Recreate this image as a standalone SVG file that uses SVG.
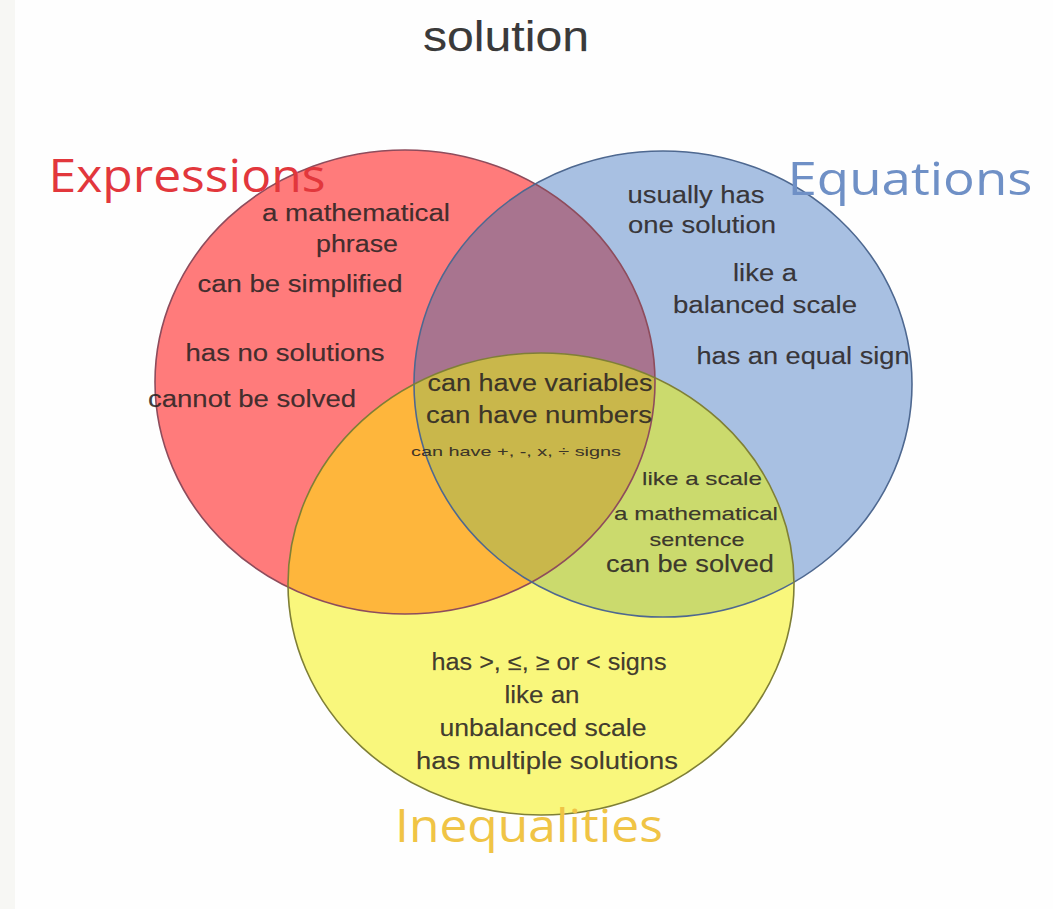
<svg xmlns="http://www.w3.org/2000/svg" width="1053" height="909" viewBox="0 0 1053 909">
  <style>
    .t { font-family: "Liberation Sans", Arial, sans-serif; font-size: 23px; fill: #2a2424; fill-opacity: 0.9; stroke: #2a2424; stroke-width: 0.25; stroke-opacity: 0.6; text-anchor: middle; }
    .s { font-size: 19px; }
    .xs { font-size: 13px; stroke-width: 0.1; }
    .lbl { font-family: "Open Sans", "Liberation Sans", sans-serif; font-size: 46px; text-anchor: middle; }
    .edge { fill: none; stroke-width: 1.6; }
  </style>
  <defs>
    <clipPath id="cR"><ellipse cx="405" cy="382" rx="250" ry="232"/></clipPath>
    <clipPath id="cB"><ellipse cx="663" cy="384" rx="249" ry="233"/></clipPath>
    <clipPath id="cY"><ellipse cx="541" cy="584" rx="253" ry="231"/></clipPath>
  </defs>

  <rect x="0" y="0" width="1053" height="909" fill="#fefefe"/>
  <rect x="0" y="0" width="15" height="909" fill="#f7f7f4"/>

  <text class="t" x="506" y="51" style="font-size:43px;fill:#1e1e1e" textLength="166" lengthAdjust="spacingAndGlyphs">solution</text>

  <g id="regions">
    <ellipse cx="405" cy="382" rx="250" ry="232" fill="#ff7b7b"/>
    <ellipse cx="663" cy="384" rx="249" ry="233" fill="#a8c0e2"/>
    <ellipse cx="541" cy="584" rx="253" ry="231" fill="#f9f77c"/>
    <ellipse cx="405" cy="382" rx="250" ry="232" fill="#a8748f" clip-path="url(#cB)"/>
    <ellipse cx="541" cy="584" rx="253" ry="231" fill="#feb63c" clip-path="url(#cR)"/>
    <ellipse cx="541" cy="584" rx="253" ry="231" fill="#cbda6d" clip-path="url(#cB)"/>
    <g clip-path="url(#cB)">
      <ellipse cx="541" cy="584" rx="253" ry="231" fill="#c9b74b" clip-path="url(#cR)"/>
    </g>
  </g>

  <g id="expressions">
    <ellipse class="edge" cx="405" cy="382" rx="250" ry="232" stroke="#8e4c5c"/>
    <text class="lbl" x="187" y="192" fill="#e2373c" textLength="277" lengthAdjust="spacingAndGlyphs">Expressions</text>
    <text class="t" x="356" y="221" textLength="188" lengthAdjust="spacingAndGlyphs">a mathematical</text>
    <text class="t" x="357" y="252" textLength="82" lengthAdjust="spacingAndGlyphs">phrase</text>
    <text class="t" x="300" y="292" textLength="205" lengthAdjust="spacingAndGlyphs">can be simplified</text>
    <text class="t" x="285" y="361" textLength="199" lengthAdjust="spacingAndGlyphs">has no solutions</text>
    <text class="t" x="252" y="407" textLength="208" lengthAdjust="spacingAndGlyphs">cannot be solved</text>
  </g>

  <g id="equations">
    <ellipse class="edge" cx="663" cy="384" rx="249" ry="233" stroke="#4e6890"/>
    <text class="lbl" x="910" y="195" fill="#6f90c6" textLength="245" lengthAdjust="spacingAndGlyphs">Equations</text>
    <text class="t" x="696" y="203" textLength="137" lengthAdjust="spacingAndGlyphs">usually has</text>
    <text class="t" x="702" y="233" textLength="148" lengthAdjust="spacingAndGlyphs">one solution</text>
    <text class="t" x="765" y="281" textLength="64" lengthAdjust="spacingAndGlyphs">like a</text>
    <text class="t" x="765" y="313" textLength="184" lengthAdjust="spacingAndGlyphs">balanced scale</text>
    <text class="t" x="803" y="364" textLength="213" lengthAdjust="spacingAndGlyphs">has an equal sign</text>
  </g>

  <g id="inequalities">
    <ellipse class="edge" cx="541" cy="584" rx="253" ry="231" stroke="#7f7f36"/>
    <text class="lbl" x="529" y="842" fill="#f0c445" textLength="268" lengthAdjust="spacingAndGlyphs">Inequalities</text>
    <text class="t" x="549" y="670" textLength="235" lengthAdjust="spacingAndGlyphs">has &gt;, ≤, ≥ or &lt; signs</text>
    <text class="t" x="542" y="703" textLength="75" lengthAdjust="spacingAndGlyphs">like an</text>
    <text class="t" x="543" y="736" textLength="207" lengthAdjust="spacingAndGlyphs">unbalanced scale</text>
    <text class="t" x="547" y="769" textLength="262" lengthAdjust="spacingAndGlyphs">has multiple solutions</text>
  </g>

  <g id="shared">
    <text class="t" x="540" y="391" textLength="225" lengthAdjust="spacingAndGlyphs">can have variables</text>
    <text class="t" x="539" y="423" textLength="226" lengthAdjust="spacingAndGlyphs">can have numbers</text>
    <text class="t xs" x="516" y="456" textLength="210" lengthAdjust="spacingAndGlyphs">can have +, -, x, ÷ signs</text>
  </g>

  <g id="equations-inequalities">
    <text class="t s" x="702" y="485" textLength="120" lengthAdjust="spacingAndGlyphs">like a scale</text>
    <text class="t s" x="696" y="520" textLength="164" lengthAdjust="spacingAndGlyphs">a mathematical</text>
    <text class="t s" x="697" y="546" textLength="95" lengthAdjust="spacingAndGlyphs">sentence</text>
    <text class="t" x="690" y="572" textLength="168" lengthAdjust="spacingAndGlyphs">can be solved</text>
  </g>

  <g id="connectors"/>
</svg>
